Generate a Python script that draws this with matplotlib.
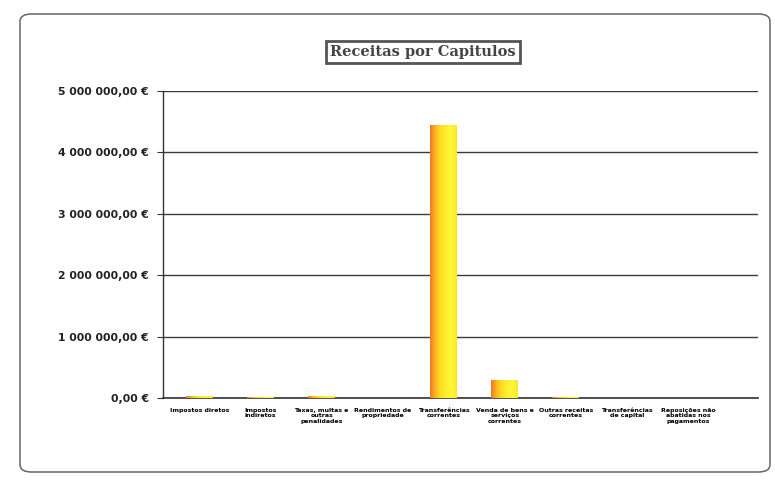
import matplotlib
matplotlib.use("Agg")
import matplotlib.pyplot as plt
import numpy as np
from matplotlib.patches import FancyBboxPatch
from matplotlib.ticker import FuncFormatter
from matplotlib.colors import LinearSegmentedColormap

categories = [
    "Impostos diretos",
    "Impostos\nindiretos",
    "Taxas, multas e\noutras\npenalidades",
    "Rendimentos de\npropriedade",
    "Transferências\ncorrentes",
    "Venda de bens e\nserviços\ncorrentes",
    "Outras receitas\ncorrentes",
    "Transferências\nde capital",
    "Reposições não\nabatidas nos\npagamentos",
]
values = [35000, 15000, 25000, 5000, 4450000, 290000, 12000, 8000, 6000]
yticks = [0, 1000000, 2000000, 3000000, 4000000, 5000000]
title = "Receitas por Capitulos"

W, H = 775, 484
fig = plt.figure(figsize=(W / 100, H / 100), dpi=100)
fig.patch.set_facecolor("white")

border = FancyBboxPatch((20 / W, 12 / H), 750 / W, 458 / H,
                        boxstyle="round,pad=0,rounding_size=0.015",
                        transform=fig.transFigure, fill=False,
                        edgecolor="#666666", linewidth=1.1)
fig.patches.append(border)

left, right, top, bottom = 163, 758, 91, 398
ax = fig.add_axes([left / W, 1 - bottom / H, (right - left) / W, (bottom - top) / H])

x = np.arange(len(categories))
bars = ax.bar(x, values, width=0.44, color="#FFE21A", edgecolor="none", zorder=3)

grad = np.linspace(0, 1, 64).reshape(1, -1)
cmap = LinearSegmentedColormap.from_list(
    "oy", ["#EE7B22", "#FBB624", "#FFDF1E", "#FFEE30", "#FFF53C", "#FFE81E"])
for b in bars:
    bx, by = b.get_x(), b.get_y()
    bw, bh = b.get_width(), b.get_height()
    im = ax.imshow(grad, extent=[bx, bx + bw, by, by + bh], aspect="auto",
                   cmap=cmap, zorder=4)
    im.set_clip_path(b)

ax.set_xlim(-0.6, 9.15)
ax.set_ylim(0, 5000000)
ax.set_yticks(yticks)
ax.yaxis.set_major_formatter(FuncFormatter(
    lambda v, p: (f"{v:,.2f}".replace(",", " ").replace(".", ",")) + " €"))
ax.grid(axis="y", color="#3a3a3a", linewidth=1.0, zorder=1)
ax.set_xticks(x)
ax.set_xticklabels(categories, fontsize=4.5, fontweight="bold", linespacing=1.15)
ax.tick_params(axis="x", length=0, pad=7)
ax.tick_params(axis="y", length=4, labelsize=7.8, pad=6, color="#333333")
for lbl in ax.get_yticklabels():
    lbl.set_fontweight("bold")
    lbl.set_color("#222222")

for s in ["top", "right"]:
    ax.spines[s].set_visible(False)
ax.spines["left"].set_color("#333333")
ax.spines["bottom"].set_color("#333333")
ax.spines["left"].set_linewidth(1.0)
ax.spines["bottom"].set_linewidth(1.2)
ax.set_facecolor("none")

fig.text(423 / W, 1 - 52 / H, title, ha="center", va="center",
         fontsize=10.5, fontweight="bold", family="DejaVu Serif", color="#444444",
         bbox=dict(boxstyle="square,pad=0.3", facecolor="white",
                   edgecolor="#555555", linewidth=2))

fig.savefig("out.png", dpi=100)
